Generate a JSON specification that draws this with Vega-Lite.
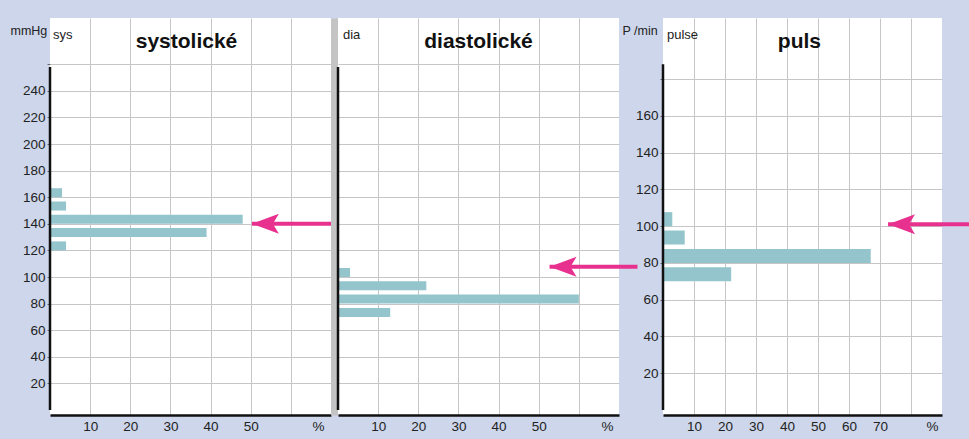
{
  "$schema": "https://vega.github.io/schema/vega-lite/v6.json",
  "background": "#cdd6ea",
  "padding": {"left": 10, "top": 18, "right": 0, "bottom": 6},
  "bounds": "flush",
  "spacing": 7,
  "datasets": {
    "sys": [
      {"bin": 160, "pct": 3},
      {"bin": 150, "pct": 4},
      {"bin": 140, "pct": 48},
      {"bin": 130, "pct": 39},
      {"bin": 120, "pct": 4}
    ],
    "dia": [
      {"bin": 100, "pct": 3},
      {"bin": 90, "pct": 22},
      {"bin": 80, "pct": 60},
      {"bin": 70, "pct": 13}
    ],
    "pulse": [
      {"bin": 100, "pct": 3},
      {"bin": 90, "pct": 7},
      {"bin": 80, "pct": 67},
      {"bin": 70, "pct": 22}
    ]
  },
  "hconcat": [
    {
      "width": 281,
      "height": 397,
      "layer": [
        {
          "data": {"name": "sys"},
          "mark": {"type": "bar", "orient": "horizontal", "size": 9, "yOffset": -4.5, "color": "#94c5cc"},
          "encoding": {
            "y": {"field": "bin", "type": "quantitative", "scale": {"domain": [0, 291], "nice": false, "zero": true},
              "axis": {"values": [20, 40, 60, 80, 100, 120, 140, 160, 180, 200, 220, 240, 260], "tickCount": 30, "labelExpr": "datum.value >= 260 ? '' : datum.label", "grid": true, "gridColor": "#c6c6c6", "domain": false, "ticks": true, "tickSize": 3, "tickColor": "#666", "labelFontSize": 13.5, "labelColor": "#222", "labelPadding": 2, "labelOverlap": false, "title": "mmHg", "titleAngle": 0, "titleX": -40, "titleY": 12, "titleAlign": "left", "titleBaseline": "middle", "titleFontSize": 12.5, "titleFontWeight": "normal", "titleColor": "#222"}},
            "x": {"field": "pct", "type": "quantitative", "scale": {"domain": [0, 70], "nice": false},
              "axis": {"values": [10, 20, 30, 40, 50, 60], "tickCount": 30, "labelExpr": "datum.value >= 60 ? '' : datum.label", "grid": true, "gridColor": "#c6c6c6", "domain": true, "domainColor": "#111", "domainWidth": 2.5, "ticks": false, "tickSize": 0, "labelPadding": 4, "labelFontSize": 13.5, "labelColor": "#222", "labelOverlap": false, "title": "%", "titleX": 268, "titleY": 4, "titleBaseline": "top", "titleAlign": "center", "titleFontSize": 13.5, "titleFontWeight": "normal", "titleColor": "#222"}}
          }
        },
        {
          "data": {"values": [{"label": "sys"}]},
          "mark": {"type": "rule", "strokeWidth": 2.5, "color": "#111"},
          "encoding": {"x": {"datum": 0}, "y": {"datum": 0}, "y2": {"datum": 258}}
        },
        {
          "data": {"values": [{"label": "sys"}]},
          "mark": {"type": "text", "align": "left", "baseline": "middle", "dx": 3, "dy": 12, "fontSize": 13, "color": "#222"},
          "encoding": {"x": {"datum": 0}, "y": {"datum": 291}, "text": {"field": "label"}}
        },
        {
          "data": {"values": [{"heading": "systolické"}]},
          "mark": {"type": "text", "align": "center", "baseline": "alphabetic", "dy": 25, "fontSize": 21, "fontWeight": "bold", "color": "#111"},
          "encoding": {"x": {"datum": 34}, "y": {"datum": 291}, "text": {"field": "heading"}}
        },
        {
          "data": {"values": [{"tip": 50.3, "tail": 72.2, "level": 140}]},
          "mark": {"type": "rule", "strokeWidth": 4, "color": "#e8318f"},
          "encoding": {"x": {"field": "tip", "type": "quantitative"}, "x2": {"field": "tail"}, "y": {"field": "level", "type": "quantitative"}}
        },
        {
          "data": {"values": [{"tip": 50.3, "tail": 72.2, "level": 140}]},
          "mark": {"type": "point", "filled": true, "opacity": 1, "size": 729, "color": "#e8318f", "strokeWidth": 0, "shape": "M0,0L2,-0.74L1.55,0L2,0.74Z"},
          "encoding": {"x": {"field": "tip", "type": "quantitative"}, "y": {"field": "level", "type": "quantitative"}}
        }
      ]
    },
    {
      "width": 281,
      "height": 397,
      "layer": [
        {
          "data": {"name": "dia"},
          "mark": {"type": "bar", "orient": "horizontal", "size": 9, "yOffset": -4.5, "color": "#94c5cc"},
          "encoding": {
            "y": {"field": "bin", "type": "quantitative", "scale": {"domain": [0, 291], "nice": false, "zero": true},
              "axis": {"values": [20, 40, 60, 80, 100, 120, 140, 160, 180, 200, 220, 240, 260], "tickCount": 30, "labels": false, "grid": true, "gridColor": "#c6c6c6", "domain": true, "domainColor": "#c4c4c4", "domainWidth": 7, "offset": 4, "ticks": false, "title": null}},
            "x": {"field": "pct", "type": "quantitative", "scale": {"domain": [0, 70], "nice": false},
              "axis": {"values": [10, 20, 30, 40, 50, 60], "tickCount": 30, "labelExpr": "datum.value >= 60 ? '' : datum.label", "grid": true, "gridColor": "#c6c6c6", "domain": true, "domainColor": "#111", "domainWidth": 2.5, "ticks": false, "tickSize": 0, "labelPadding": 4, "labelFontSize": 13.5, "labelColor": "#222", "labelOverlap": false, "title": "%", "titleX": 269, "titleY": 4, "titleBaseline": "top", "titleAlign": "center", "titleFontSize": 13.5, "titleFontWeight": "normal", "titleColor": "#222"}}
          }
        },
        {
          "data": {"values": [{"label": "dia"}]},
          "mark": {"type": "rule", "strokeWidth": 2.5, "color": "#111"},
          "encoding": {"x": {"datum": 0}, "y": {"datum": 0}, "y2": {"datum": 258}}
        },
        {
          "data": {"values": [{"label": "dia"}]},
          "mark": {"type": "text", "align": "left", "baseline": "middle", "dx": 5, "dy": 12, "fontSize": 13, "color": "#222"},
          "encoding": {"x": {"datum": 0}, "y": {"datum": 291}, "text": {"field": "label"}}
        },
        {
          "data": {"values": [{"heading": "diastolické"}]},
          "mark": {"type": "text", "align": "center", "baseline": "alphabetic", "dy": 25, "fontSize": 21, "fontWeight": "bold", "color": "#111"},
          "encoding": {"x": {"datum": 35}, "y": {"datum": 291}, "text": {"field": "heading"}}
        },
        {
          "data": {"values": [{"tip": 52.7, "tail": 74.6, "level": 107.7}]},
          "mark": {"type": "rule", "strokeWidth": 4, "color": "#e8318f"},
          "encoding": {"x": {"field": "tip", "type": "quantitative"}, "x2": {"field": "tail"}, "y": {"field": "level", "type": "quantitative"}}
        },
        {
          "data": {"values": [{"tip": 52.7, "tail": 74.6, "level": 107.7}]},
          "mark": {"type": "point", "filled": true, "opacity": 1, "size": 729, "color": "#e8318f", "strokeWidth": 0, "shape": "M0,0L2,-0.74L1.55,0L2,0.74Z"},
          "encoding": {"x": {"field": "tip", "type": "quantitative"}, "y": {"field": "level", "type": "quantitative"}}
        }
      ]
    },
    {
      "width": 30,
      "height": 397,
      "view": {"fill": null, "stroke": null},
      "data": {"values": [{"label": ""}]},
      "mark": {"type": "text"},
      "encoding": {"text": {"field": "label"}}
    },
    {
      "width": 279,
      "height": 397,
      "layer": [
        {
          "data": {"name": "pulse"},
          "mark": {"type": "bar", "orient": "horizontal", "size": 14, "yOffset": -7, "color": "#94c5cc"},
          "encoding": {
            "y": {"field": "bin", "type": "quantitative", "scale": {"domain": [0, 210.5], "nice": false, "zero": true},
              "axis": {"values": [20, 40, 60, 80, 100, 120, 140, 160, 180], "tickCount": 30, "labelExpr": "datum.value >= 180 ? '' : datum.label", "grid": true, "gridColor": "#c6c6c6", "domain": false, "ticks": true, "tickSize": 3, "tickColor": "#666", "labelFontSize": 13.5, "labelColor": "#222", "labelPadding": 2, "labelOverlap": false, "title": "P /min", "titleAngle": 0, "titleX": -41, "titleY": 12, "titleAlign": "left", "titleBaseline": "middle", "titleFontSize": 12.5, "titleFontWeight": "normal", "titleColor": "#222"}},
            "x": {"field": "pct", "type": "quantitative", "scale": {"domain": [0, 90], "nice": false},
              "axis": {"values": [10, 20, 30, 40, 50, 60, 70, 80], "tickCount": 30, "labelExpr": "datum.value >= 80 ? '' : datum.label", "grid": true, "gridColor": "#c6c6c6", "domain": true, "domainColor": "#111", "domainWidth": 2.5, "ticks": false, "tickSize": 0, "labelPadding": 4, "labelFontSize": 13.5, "labelColor": "#222", "labelOverlap": false, "title": "%", "titleX": 269, "titleY": 4, "titleBaseline": "top", "titleAlign": "center", "titleFontSize": 13.5, "titleFontWeight": "normal", "titleColor": "#222"}}
          }
        },
        {
          "data": {"values": [{"label": "pulse"}]},
          "mark": {"type": "rule", "strokeWidth": 2.5, "color": "#111"},
          "encoding": {"x": {"datum": 0}, "y": {"datum": 0}, "y2": {"datum": 188}}
        },
        {
          "data": {"values": [{"label": "pulse"}]},
          "mark": {"type": "text", "align": "left", "baseline": "middle", "dx": 4, "dy": 12, "fontSize": 13, "color": "#222"},
          "encoding": {"x": {"datum": 0}, "y": {"datum": 210.5}, "text": {"field": "label"}}
        },
        {
          "data": {"values": [{"heading": "puls"}]},
          "mark": {"type": "text", "align": "center", "baseline": "alphabetic", "dy": 25, "fontSize": 21, "fontWeight": "bold", "color": "#111"},
          "encoding": {"x": {"datum": 44}, "y": {"datum": 210.5}, "text": {"field": "heading"}}
        },
        {
          "data": {"values": [{"tip": 72.6, "tail": 98.7, "level": 101}]},
          "mark": {"type": "rule", "strokeWidth": 4, "color": "#e8318f"},
          "encoding": {"x": {"field": "tip", "type": "quantitative"}, "x2": {"field": "tail"}, "y": {"field": "level", "type": "quantitative"}}
        },
        {
          "data": {"values": [{"tip": 72.6, "tail": 98.7, "level": 101}]},
          "mark": {"type": "point", "filled": true, "opacity": 1, "size": 729, "color": "#e8318f", "strokeWidth": 0, "shape": "M0,0L2,-0.74L1.55,0L2,0.74Z"},
          "encoding": {"x": {"field": "tip", "type": "quantitative"}, "y": {"field": "level", "type": "quantitative"}}
        }
      ]
    }
  ],
  "config": {
    "view": {"fill": "white", "stroke": null},
    "font": "Liberation Sans",
    "axis": {"labelFont": "Liberation Sans", "titleFont": "Liberation Sans", "labelOverlap": false},
    "text": {"font": "Liberation Sans"}
  }
}
